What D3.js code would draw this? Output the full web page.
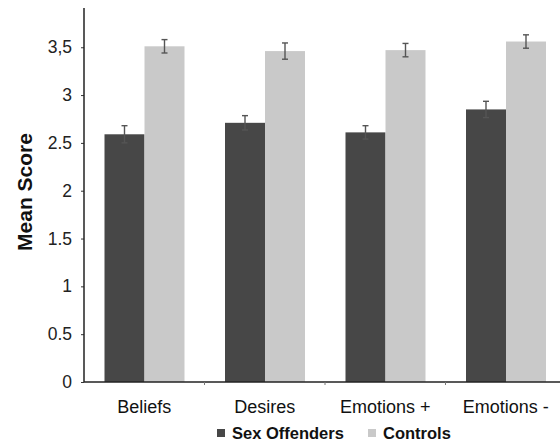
<!DOCTYPE html>
<html>
<head>
<meta charset="utf-8">
<script src="https://cdn.jsdelivr.net/npm/d3@7"></script>
<style>
  html, body { margin: 0; padding: 0; background: #fff; }
  svg { display: block; font-family: "Liberation Sans", Arial, sans-serif; }
</style>
</head>
<body>
<svg id="chart" width="560" height="442"></svg>
<script>
// Mean scores per category for each group, with standard-error half-widths
const categories = ["Beliefs", "Desires", "Emotions +", "Emotions -"];
const seriesNames = ["Sex Offenders", "Controls"];
const offendersMean = [2.59, 2.71, 2.61, 2.85];
const offendersErr = [0.09, 0.075, 0.07, 0.085];
const controlsMean = [3.51, 3.46, 3.47, 3.56];
const controlsErr = [0.07, 0.085, 0.07, 0.07];
const yTicks = [0, 0.5, 1, 1.5, 2, 2.5, 3, 3.5];
const yTickLabels = ["0", "0.5", "1", "1.5", "2", "2.5", "3", "3,5"];
const colors = ["#474747", "#c9c9c9"];

const rows = [];
categories.forEach((c, i) => {
  rows.push({ cat: c, series: seriesNames[0], value: offendersMean[i], err: offendersErr[i] });
  rows.push({ cat: c, series: seriesNames[1], value: controlsMean[i], err: controlsErr[i] });
});

const svg = d3.select("#chart");
const x0 = 84, yBase = 382;

const x = d3.scaleBand().domain(categories).range([x0, 566]).padding(0);
const xInner = d3.scaleBand().domain(seriesNames).range([20.5, 100.5]).padding(0);
const y = d3.scaleLinear().domain([0, 3.9]).range([yBase, 9]);
const color = d3.scaleOrdinal().domain(seriesNames).range(colors);

// bars
svg.append("g").selectAll("rect").data(rows).join("rect")
  .attr("x", d => x(d.cat) + xInner(d.series))
  .attr("y", d => y(d.value))
  .attr("width", xInner.bandwidth())
  .attr("height", d => y(0) - y(d.value))
  .attr("fill", d => color(d.series));

// error bars
const eb = svg.append("g").attr("stroke", "#555").attr("stroke-width", 1.4);
rows.forEach(d => {
  const cx = x(d.cat) + xInner(d.series) + xInner.bandwidth() / 2;
  const top = y(d.value + d.err), bot = y(d.value - d.err);
  eb.append("line").attr("x1", cx).attr("x2", cx).attr("y1", top).attr("y2", bot);
  eb.append("line").attr("x1", cx - 3).attr("x2", cx + 3).attr("y1", top).attr("y2", top);
  eb.append("line").attr("x1", cx - 3).attr("x2", cx + 3).attr("y1", bot).attr("y2", bot);
});

// y axis
const yAxis = d3.axisLeft(y).tickValues(yTicks)
  .tickFormat((d, i) => yTickLabels[i]).tickSize(3).tickPadding(9);
const gy = svg.append("g").attr("transform", `translate(${x0},0)`).call(yAxis);
gy.select(".domain").remove();
gy.selectAll(".tick line").attr("stroke", "#333");
gy.selectAll(".tick text").attr("font-size", 17.5).attr("fill", "#222")
  .attr("font-family", "'Liberation Sans', Arial, sans-serif");
svg.append("line").attr("x1", x0).attr("x2", x0).attr("y1", 8).attr("y2", yBase)
  .attr("stroke", "#222").attr("stroke-width", 1.5);

// x axis
const xAxis = d3.axisBottom(x).tickSize(0).tickPadding(18);
const gx = svg.append("g").attr("transform", `translate(0,${yBase})`).call(xAxis);
gx.select(".domain").remove();
gx.selectAll(".tick text").attr("font-size", 18).attr("fill", "#111")
  .attr("font-family", "'Liberation Sans', Arial, sans-serif");
svg.append("line").attr("x1", x0).attr("x2", 560).attr("y1", yBase).attr("y2", yBase)
  .attr("stroke", "#222").attr("stroke-width", 1.5);
// small separators between categories
svg.append("g").selectAll("line").data(categories.slice(1)).join("line")
  .attr("x1", d => x(d)).attr("x2", d => x(d))
  .attr("y1", yBase).attr("y2", yBase + 3)
  .attr("stroke", "#777").attr("stroke-width", 1);

// y axis title
svg.append("text")
  .attr("transform", "translate(32,192) rotate(-90)")
  .attr("text-anchor", "middle")
  .attr("font-size", 21).attr("font-weight", "bold").attr("fill", "#111")
  .text("Mean Score");

// legend
const legendX = [217, 368];
const lg = svg.append("g");
seriesNames.forEach((s, i) => {
  lg.append("rect").attr("x", legendX[i]).attr("y", 429).attr("width", 8).attr("height", 8)
    .attr("fill", color(s));
  lg.append("text").attr("x", legendX[i] + 15).attr("y", 438.5)
    .attr("font-size", 16.5).attr("font-weight", "bold").attr("fill", "#111")
    .text(s);
});
</script>
</body>
</html>
